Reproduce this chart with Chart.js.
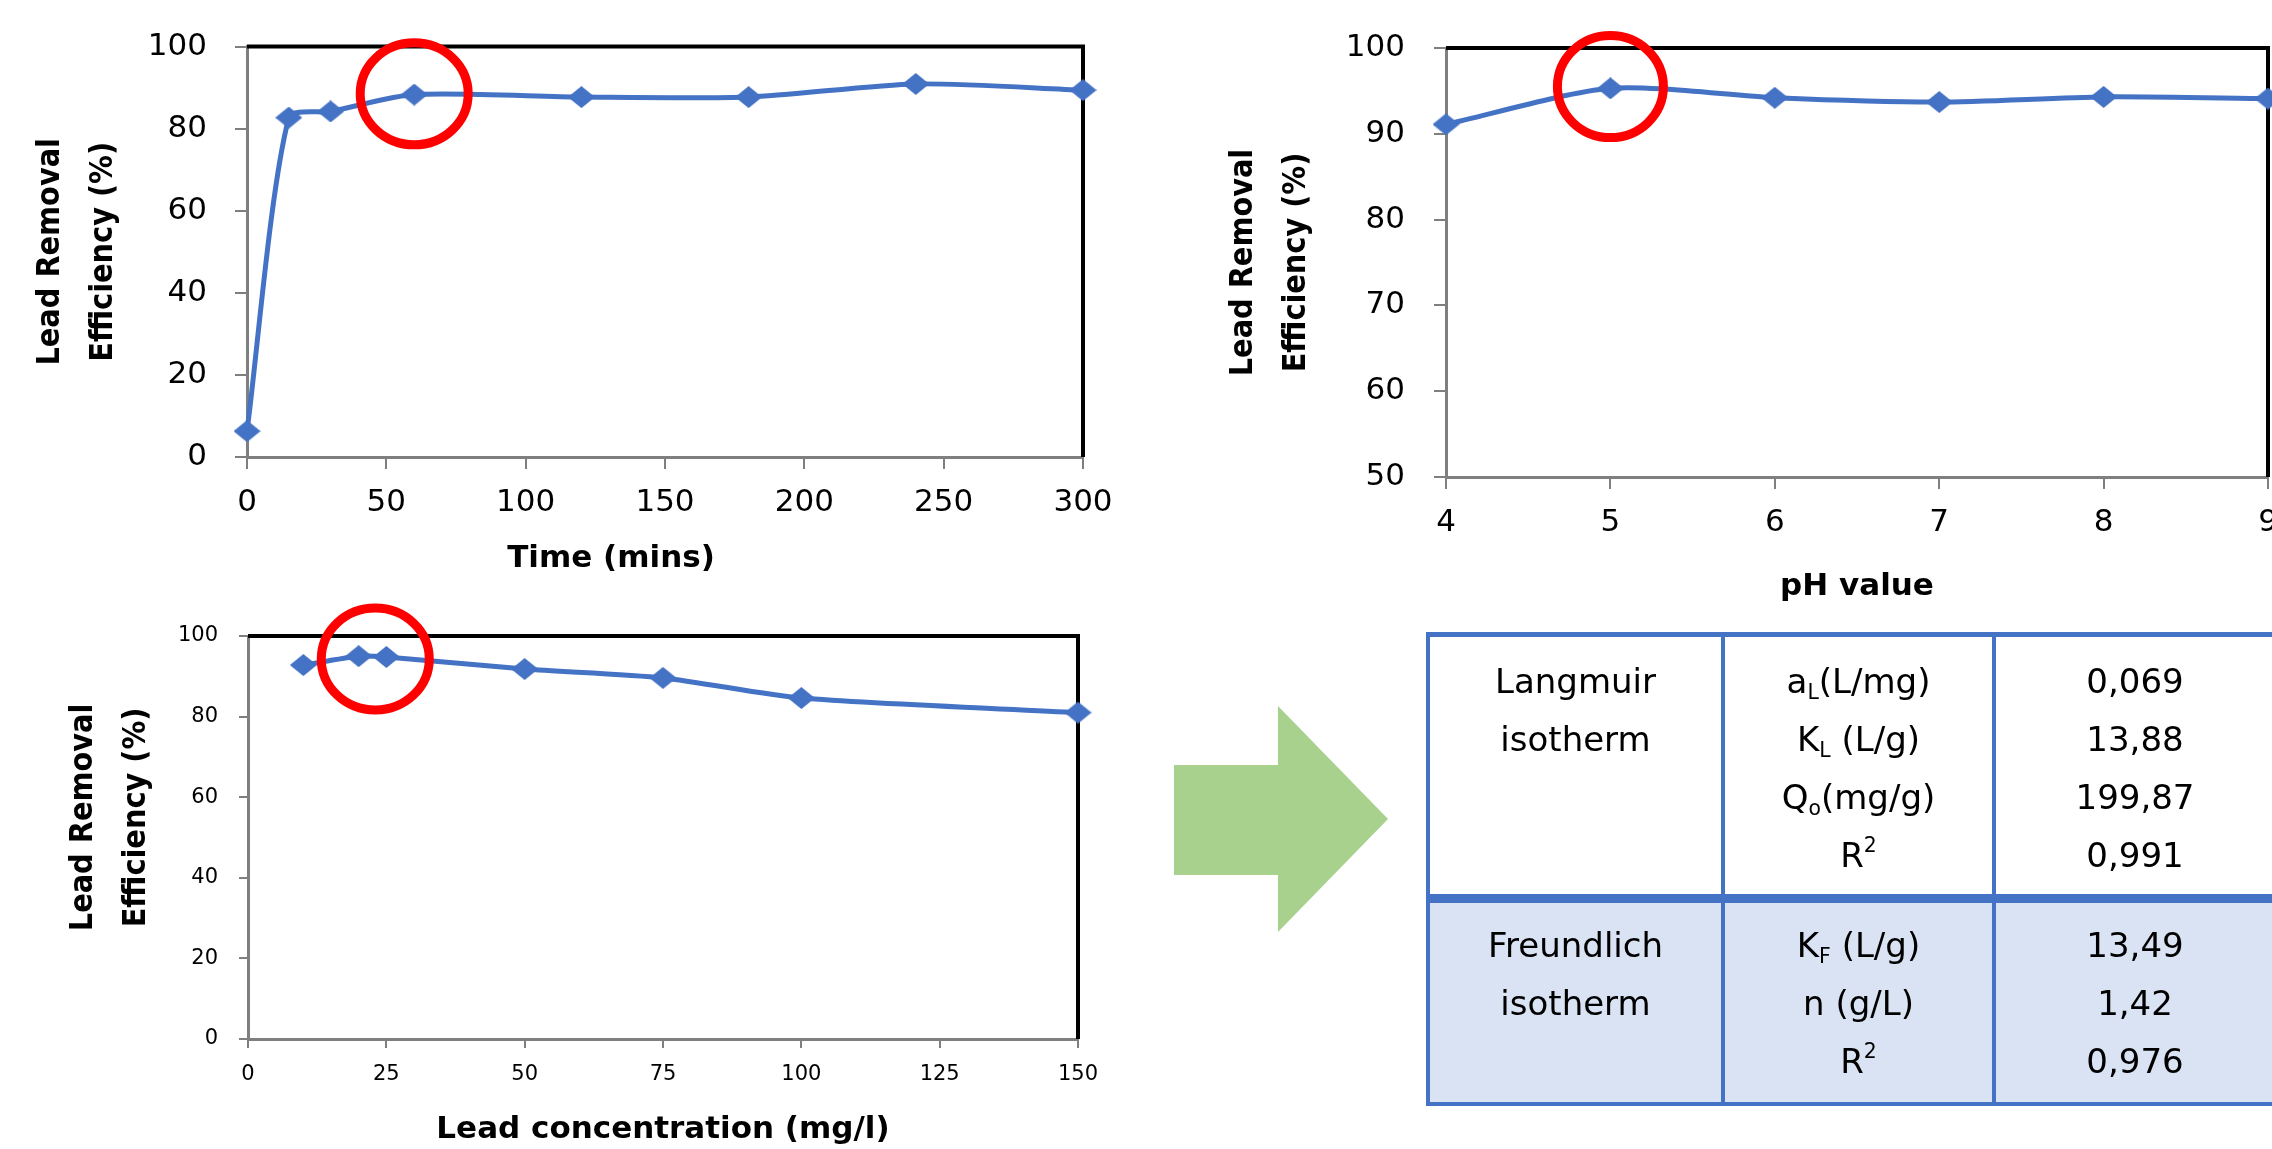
<!DOCTYPE html>
<html lang="en">
<head>
<meta charset="UTF-8">
<title>Lead removal efficiency</title>
<script src="https://cdn.jsdelivr.net/npm/chart.js@4.4.1/dist/chart.umd.min.js"></script>
<style>
  html, body { margin: 0; padding: 0; background: #fff; }
  body { width: 2272px; height: 1149px; overflow: hidden; position: relative; }
  canvas { position: absolute; }
  #arrow { position: absolute; left: 0; top: 0; }
  .ln { position: absolute; background: #4472c4; }
  .fill { position: absolute; background: #dae3f3; }
  .cell {
    position: absolute;
    text-align: center;
    font-family: "DejaVu Sans", Verdana, sans-serif;
    font-size: 34px;
    line-height: 58px;
    color: #000;
    white-space: nowrap;
  }
  .cell sub { font-size: 0.6em; vertical-align: -0.3em; line-height: 0; }
  .cell sup { font-size: 0.6em; vertical-align: 0.75em; line-height: 0; }
</style>
</head>
<body>

<canvas id="timeChart" width="1140" height="600" style="left:0;top:0"></canvas>
<canvas id="phChart" width="1200" height="620" style="left:1180px;top:0"></canvas>
<canvas id="concChart" width="1140" height="549" style="left:0;top:600px"></canvas>

<svg id="arrow" width="2272" height="1149">
  <polygon points="1174,765 1278,765 1278,706 1388,819 1278,932 1278,875 1174,875" fill="#a9d18e"/>
</svg>

<!-- isotherm table -->
<div class="fill" style="left:1426px;top:898px;width:870px;height:206px"></div>
<div class="ln" style="left:1426px;top:632px;width:870px;height:5px"></div>
<div class="ln" style="left:1426px;top:894px;width:870px;height:9px"></div>
<div class="ln" style="left:1426px;top:1102px;width:870px;height:4px"></div>
<div class="ln" style="left:1426px;top:632px;width:4px;height:474px"></div>
<div class="ln" style="left:1721px;top:632px;width:4px;height:474px"></div>
<div class="ln" style="left:1992px;top:632px;width:4px;height:474px"></div>

<div class="cell" style="left:1428px;width:295px;top:652px">Langmuir<br>isotherm</div>
<div class="cell" style="left:1723px;width:271px;top:652px">a<sub>L</sub>(L/mg)<br>K<sub>L</sub> (L/g)<br>Q<sub>o</sub>(mg/g)<br>R<sup>2</sup></div>
<div class="cell" style="left:1994px;width:282px;top:652px">0,069<br>13,88<br>199,87<br>0,991</div>
<div class="cell" style="left:1428px;width:295px;top:916px">Freundlich<br>isotherm</div>
<div class="cell" style="left:1723px;width:271px;top:916px">K<sub>F</sub> (L/g)<br>n (g/L)<br>R<sup>2</sup></div>
<div class="cell" style="left:1994px;width:282px;top:916px">13,49<br>1,42<br>0,976</div>

<script>
// data
const timeMins = [0, 15, 30, 60, 120, 180, 240, 300];
const timeEff = [6.3, 82.7, 84.2, 88.3, 87.7, 87.7, 90.9, 89.4];

const phValues = [4, 5, 6, 7, 8, 9];
const phEff = [91.1, 95.3, 94.2, 93.7, 94.3, 94.1];

const concValues = [10, 20, 25, 50, 75, 100, 150];
const concEff = [92.8, 95.0, 94.8, 91.8, 89.6, 84.6, 81.0];

const yTitle = ['Lead Removal', 'Efficiency (%)'];

const BLUE = '#4472c4';
const tickFont = '"DejaVu Sans", Verdana, sans-serif';
const narrowFont = '"Liberation Sans Narrow", "DejaVu Sans Condensed", "Roboto Condensed", sans-serif';
const nb = (n) => '\u00a0'.repeat(n);

function makeDiamond(w, h, color) {
    const c = document.createElement('canvas');
    c.width = w;
    c.height = h;
    const g = c.getContext('2d');
    g.fillStyle = color;
    g.beginPath();
    g.moveTo(w / 2, 0);
    g.lineTo(w, h / 2);
    g.lineTo(w / 2, h);
    g.lineTo(0, h / 2);
    g.closePath();
    g.fill();
    return c;
}
const diamond = makeDiamond(27, 22, BLUE);

// black top and right edge of the plot box
const framePlugin = {
    id: 'frame',
    beforeDatasetsDraw(chart) {
        const {ctx, chartArea: a} = chart;
        ctx.save();
        ctx.strokeStyle = '#000';
        ctx.lineWidth = 4;
        ctx.beginPath();
        ctx.moveTo(a.left, a.top);
        ctx.lineTo(a.right, a.top);
        ctx.lineTo(a.right, a.bottom);
        ctx.stroke();
        ctx.restore();
    }
};

// red ellipse around the optimum
const highlightPlugin = {
    id: 'highlight',
    afterDatasetsDraw(chart, args, opts) {
        const {ctx, scales} = chart;
        const cx = scales.x.getPixelForValue(opts.x);
        const cy = scales.y.getPixelForValue(opts.y);
        ctx.save();
        ctx.strokeStyle = '#ff0000';
        ctx.lineWidth = 9;
        ctx.beginPath();
        ctx.ellipse(cx, cy, opts.rx, opts.ry, 0, 0, Math.PI * 2);
        ctx.stroke();
        ctx.restore();
    }
};

function makeChart(id, xs, ys, s) {
    const ctx = document.getElementById(id).getContext('2d');
    return new Chart(ctx, {
        type: 'line',
        data: {
            datasets: [{
                data: xs.map((x, i) => ({x: x, y: ys[i]})),
                borderColor: BLUE,
                borderWidth: 5,
                tension: 0.25,
                fill: false,
                pointStyle: diamond,
                pointRadius: 12,
                clip: false
            }]
        },
        options: {
            responsive: false,
            animation: false,
            devicePixelRatio: 1,
            layout: { padding: s.padding },
            plugins: {
                legend: { display: false },
                tooltip: { enabled: false },
                highlight: s.highlight
            },
            scales: {
                x: {
                    type: 'linear',
                    min: s.xMin, max: s.xMax,
                    ticks: { stepSize: s.xStep, color: '#000', padding: s.xPad, font: { family: tickFont, size: s.tickSize } },
                    grid: { drawOnChartArea: false, tickLength: s.tickLen, color: '#7f7f7f', lineWidth: 2 },
                    border: { color: '#7f7f7f', width: 3 },
                    title: {
                        display: true,
                        text: s.xTitle,
                        color: '#000',
                        font: { family: tickFont, size: 31, weight: 'bold', lineHeight: 1.2 },
                        padding: { top: 0, bottom: s.xTitlePad }
                    },
                    afterFit: (scale) => { scale.height = s.xHeight; }
                },
                y: {
                    min: s.yMin, max: s.yMax,
                    ticks: { stepSize: s.yStep, color: '#000', padding: s.yPad, font: { family: tickFont, size: s.tickSize } },
                    grid: { drawOnChartArea: false, tickLength: s.tickLen, color: '#7f7f7f', lineWidth: 2 },
                    border: { color: '#7f7f7f', width: 3 },
                    title: {
                        display: true,
                        text: s.yTitle || yTitle,
                        color: '#000',
                        font: { family: narrowFont, size: 32, weight: 'bold', lineHeight: 1.66 },
                        padding: { top: s.yTitlePad, bottom: 0 }
                    },
                    afterFit: (scale) => { scale.width = s.yWidth; }
                }
            }
        },
        plugins: [framePlugin, highlightPlugin]
    });
}

// the time title sits left of the plot centre in the original
makeChart('timeChart', timeMins, timeEff, {
    padding: { top: 41, right: 57, left: 0, bottom: 0 },
    xMin: 0, xMax: 300, xStep: 50,
    yMin: 0, yMax: 100, yStep: 20,
    tickSize: 31, tickLen: 12, xPad: 15, yPad: 28,
    xTitle: 'Time (mins)' + nb(10), xTitlePad: 22, xHeight: 143,
    yTitlePad: 24, yWidth: 247,
    highlight: { x: 60, y: 88.5, rx: 54, ry: 51 }
});

makeChart('phChart', phValues, phEff, {
    padding: { top: 48, right: 112, left: 0, bottom: 0 },
    xMin: 4, xMax: 9, xStep: 1,
    yMin: 50, yMax: 100, yStep: 10,
    tickSize: 31, tickLen: 12, xPad: 15, yPad: 29,
    xTitle: 'pH value', xTitlePad: 14, xHeight: 143,
    yTitlePad: 37, yWidth: 266,
    highlight: { x: 5, y: 95.5, rx: 53, ry: 51 }
});

// y title a little above the plot centre here
makeChart('concChart', concValues, concEff, {
    padding: { top: 36, right: 62, left: 0, bottom: 0 },
    xMin: 0, xMax: 150, xStep: 25,
    yMin: 0, yMax: 100, yStep: 20,
    tickSize: 21, tickLen: 9, xPad: 14, yPad: 21,
    xTitle: 'Lead concentration (mg/l)', xTitlePad: 0, xHeight: 110,
    yTitle: yTitle.map(t => nb(4) + t),
    yTitlePad: 57, yWidth: 248,
    highlight: { x: 23, y: 94.3, rx: 54, ry: 51 }
});
</script>
</body>
</html>
